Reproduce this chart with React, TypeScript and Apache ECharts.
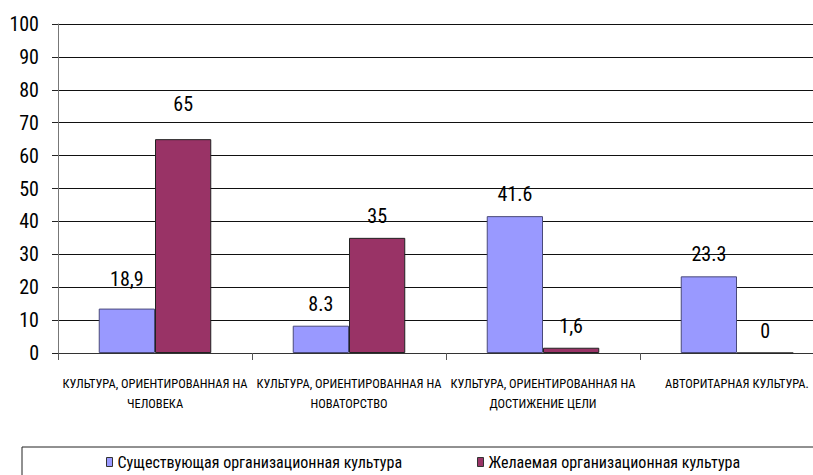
import React, { useEffect, useRef } from "react";
import * as echarts from "echarts";

const categories = [
  "КУЛЬТУРА, ОРИЕНТИРОВАННАЯ НА\nЧЕЛОВЕКА",
  "КУЛЬТУРА, ОРИЕНТИРОВАННАЯ НА\nНОВАТОРСТВО",
  "КУЛЬТУРА, ОРИЕНТИРОВАННАЯ НА\nДОСТИЖЕНИЕ ЦЕЛИ",
  "АВТОРИТАРНАЯ КУЛЬТУРА.",
];
const seriesNames = [
  "Существующая организационная культура",
  "Желаемая организационная культура",
];
const existingValues = [13.5, 8.3, 41.6, 23.3];
const existingLabels = ["18,9", "8.3", "41.6", "23.3"];
const desiredValues = [65, 35, 1.6, 0];
const desiredLabels = ["65", "35", "1,6", "0"];
const yMin = 0;
const yMax = 100;
const yInterval = 10;

const FONT_NARROW = "'Liberation Sans Narrow', 'Roboto Condensed', 'Arial Narrow', Roboto";

export default function App() {
  const ref = useRef<HTMLDivElement>(null);

  useEffect(() => {
    document.body.style.margin = "0";
    if (!ref.current) return;
    const chart = echarts.init(ref.current, undefined, { renderer: "svg" });

    const mkData = (vals: number[], labels: string[], lift: number[]) =>
      vals.map((v, i) => ({
        value: v,
        label: { formatter: labels[i], distance: 12 + lift[i] },
      }));

    const labelStyle = {
      show: true,
      position: "top" as const,
      fontFamily: FONT_NARROW,
      fontSize: 20,
      color: "#000",
    };

    const legendText = { fontFamily: FONT_NARROW, fontSize: 16, color: "#000" };

    chart.setOption({
      animation: false,
      backgroundColor: "#fff",
      grid: {
        left: 58,
        top: 24,
        width: 776,
        height: 329,
        containLabel: false,
        outerBoundsMode: "none",
      },
      xAxis: {
        type: "category",
        data: categories,
        boundaryGap: true,
        axisLine: { show: true, lineStyle: { color: "#333", width: 1 } },
        axisTick: { show: true, length: 7, lineStyle: { color: "#555" } },
        axisLabel: {
          interval: 0,
          hideOverlap: false,
          margin: 20,
          fontFamily: FONT_NARROW,
          fontSize: 12.5,
          lineHeight: 20,
          color: "#000",
        },
      },
      yAxis: {
        type: "value",
        min: yMin,
        max: yMax,
        interval: yInterval,
        axisLine: { show: true, lineStyle: { color: "#777", width: 1 } },
        axisTick: { show: true, length: 6, lineStyle: { color: "#222" } },
        axisLabel: {
          margin: 19,
          fontFamily: FONT_NARROW,
          fontSize: 20,
          color: "#000",
        },
        splitLine: { show: true, lineStyle: { color: "#111", width: 1 } },
      },
      legend: [
        {
          data: [seriesNames[0]],
          left: 106,
          top: 454,
          itemWidth: 6,
          itemHeight: 9,
          padding: 0,
          icon: "rect",
          itemStyle: { borderColor: "#333", borderWidth: 1 },
          textStyle: legendText,
        },
        {
          data: [seriesNames[1]],
          left: 477,
          top: 454,
          itemWidth: 6,
          itemHeight: 9,
          padding: 0,
          icon: "rect",
          itemStyle: { borderColor: "#333", borderWidth: 1 },
          textStyle: legendText,
        },
      ],
      graphic: [
        {
          type: "rect",
          shape: { x: 22, y: 447, width: 840, height: 60 },
          style: { fill: "none", stroke: "#222", lineWidth: 1 },
          silent: true,
          z: 100,
        },
      ],
      series: [
        {
          name: seriesNames[0],
          type: "bar",
          barGap: "0%",
          barCategoryGap: "42%",
          itemStyle: { color: "#9999FF", borderColor: "#4a4a7a", borderWidth: 1 },
          label: labelStyle,
          data: mkData(existingValues, existingLabels, [8, 0, 0, 0]),
        },
        {
          name: seriesNames[1],
          type: "bar",
          barGap: "0%",
          barCategoryGap: "42%",
          itemStyle: { color: "#993366", borderColor: "#222", borderWidth: 1 },
          label: labelStyle,
          data: mkData(desiredValues, desiredLabels, [13, 0, 0, 0]),
        },
      ],
    });

    return () => chart.dispose();
  }, []);

  return (
    <div
      ref={ref}
      style={{ position: "absolute", left: 0, top: 0, width: 813, height: 475 }}
    />
  );
}
